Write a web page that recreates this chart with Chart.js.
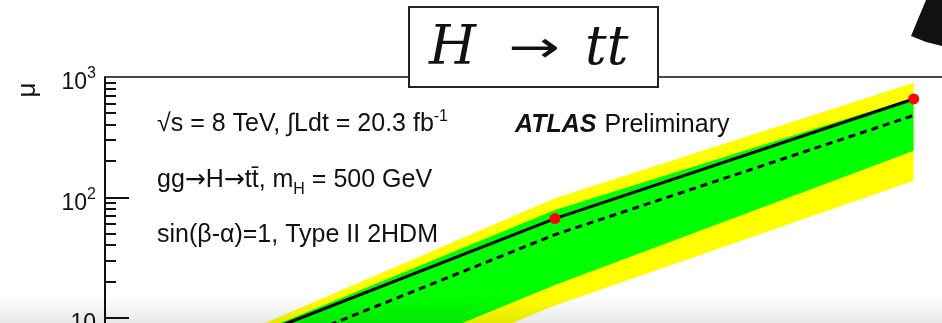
<!DOCTYPE html>
<html>
<head>
<meta charset="utf-8">
<script src="https://cdn.jsdelivr.net/npm/chart.js@4.4.1/dist/chart.umd.min.js"></script>
<style>
  html, body { margin: 0; padding: 0; background: #fff; overflow: hidden; }
  #wrap { position: relative; width: 942px; height: 323px; overflow: hidden; }
  #limitChart { position: absolute; left: 0; top: 0; }
  #shade { position: absolute; left: 0; top: 296px; width: 942px; height: 27px;
    background: linear-gradient(to bottom, rgba(0,0,0,0), rgba(0,0,0,0.09)); pointer-events: none; }
</style>
</head>
<body>
<div id="wrap">
  <canvas id="limitChart" width="1010" height="444"></canvas>
  <div id="shade"></div>
</div>
<script>
// LIMIT POINTS (x positions of the scan points, only the top part of the plot is visible)
const xPoints = [1, 2, 3];
const observed = [4.59, 66.8, 657];
const expected = [3.15, 49.2, 480];
const plus2Sigma = [5.14, 98.7, 894];
const plus1Sigma = [4.67, 78.7, 673];
const minus1Sigma = [1.12, 18.8, 244];
const minus2Sigma = [0.76, 12.7, 138];

// Y AXIS
const yMin = 1;
const yMax = 1000;
const yMajorTicks = [1, 10, 100, 1000];
const yTickLabels = [['1', ''], ['10', ''], ['10', '2'], ['10', '3']];
const xMin = 0.743;
const xMax = 3.253;

const SANS = '"Liberation Sans", Arial, Helvetica, sans-serif';

function pts(values) {
  return xPoints.map((x, i) => ({ x: x, y: values[i] }));
}

function bandSet(values, color, target, order) {
  return {
    data: pts(values),
    borderWidth: 0,
    pointRadius: 0,
    backgroundColor: color,
    fill: target === null ? false : { target: target },
    tension: 0,
    order: order
  };
}

function richText(ctx, x, y, parts) {
  parts.forEach(p => {
    ctx.font = p.font;
    ctx.fillText(p.t, x, y + (p.dy || 0));
    x += ctx.measureText(p.t).width + (p.gap || 0);
  });
}

// frame, inward ticks, tick labels, annotations
const decorations = {
  id: 'decorations',
  afterDraw(chart) {
    const ctx = chart.ctx;
    const area = chart.chartArea;
    const y = chart.scales.y;
    ctx.save();

    // top frame line
    ctx.strokeStyle = '#4a4a4a';
    ctx.lineWidth = 2;
    ctx.beginPath();
    ctx.moveTo(area.left, area.top);
    ctx.lineTo(chart.width, area.top);
    ctx.stroke();

    // left axis
    ctx.strokeStyle = '#111';
    ctx.beginPath();
    ctx.moveTo(area.left + 1, area.top);
    ctx.lineTo(area.left + 1, area.bottom);
    ctx.stroke();

    // ticks pointing into the plot
    for (let d = yMin; d < yMax; d *= 10) {
      for (let m = 1; m < 10; m++) {
        const py = Math.round(y.getPixelForValue(d * m));
        const len = m === 1 ? 25 : 12;
        ctx.beginPath();
        ctx.moveTo(area.left, py);
        ctx.lineTo(area.left + len, py);
        ctx.stroke();
      }
    }

    // tick labels with exponents
    ctx.fillStyle = '#111';
    ctx.textBaseline = 'alphabetic';
    yMajorTicks.forEach((v, i) => {
      const py = y.getPixelForValue(v);
      const [base, exp] = yTickLabels[i];
      ctx.font = '23px ' + SANS;
      const wb = ctx.measureText(base).width;
      ctx.font = '16px ' + SANS;
      const we = exp ? ctx.measureText(exp).width : 0;
      const right = 96;
      ctx.font = '23px ' + SANS;
      ctx.fillText(base, right - we - wb, py + 12);
      if (exp) {
        ctx.font = '16px ' + SANS;
        ctx.fillText(exp, right - we, py + 1);
      }
    });

    // y axis title
    ctx.save();
    ctx.translate(35, 90);
    ctx.rotate(-Math.PI / 2);
    ctx.font = '26px ' + SANS;
    ctx.textAlign = 'center';
    ctx.fillText('μ', 0, 0);
    ctx.restore();

    // annotations
    ctx.fillStyle = '#111';
    const f = '25px ' + SANS;
    const fs = '16px ' + SANS;
    const fa = '25px "DejaVu Sans", sans-serif';
    richText(ctx, 157, 131, [
      { t: '√s = 8 TeV, ∫Ldt = 20.3 fb', font: f },
      { t: '-1', font: fs, dy: -10 }
    ]);
    richText(ctx, 157, 187, [
      { t: 'gg', font: f },
      { t: '→', font: fa },
      { t: 'H', font: f },
      { t: '→', font: fa },
      { t: 'tt\u0304, m', font: f },
      { t: 'H', font: fs, dy: 7 },
      { t: ' = 500 GeV', font: f }
    ]);
    richText(ctx, 157, 242, [
      { t: 'sin(β-α)=1, Type II 2HDM', font: f }
    ]);
    richText(ctx, 515, 132, [
      { t: 'ATLAS', font: 'italic bold 25px ' + SANS, gap: 8 },
      { t: 'Preliminary', font: '25px ' + SANS }
    ]);

    // title box
    ctx.fillStyle = '#fff';
    ctx.fillRect(409, 7, 249, 80);
    ctx.strokeStyle = '#222';
    ctx.lineWidth = 2;
    ctx.strokeRect(409, 7, 249, 80);
    ctx.fillStyle = '#111';
    ctx.font = 'italic 54px "DejaVu Serif", "Liberation Serif", serif';
    ctx.fillText('H', 429, 64);
    ctx.fillText('tt', 585, 64);
    ctx.save();
    ctx.translate(508, 62);
    ctx.scale(1.4, 1);
    ctx.font = '44px "DejaVu Sans", serif';
    ctx.fillText('→', 0, 0);
    ctx.restore();

    // corner mark
    ctx.fillStyle = '#111';
    ctx.beginPath();
    ctx.moveTo(926, 0);
    ctx.lineTo(942, 0);
    ctx.lineTo(942, 46);
    ctx.lineTo(926, 42);
    ctx.lineTo(911, 36);
    ctx.closePath();
    ctx.fill();

    ctx.restore();
  }
};

const ctx = document.getElementById('limitChart').getContext('2d');
new Chart(ctx, {
  type: 'line',
  data: {
    datasets: [
      bandSet(plus2Sigma, '#ffff00', 1, 6),
      bandSet(minus2Sigma, '#ffff00', null, 5),
      bandSet(plus1Sigma, '#00ff00', 3, 4),
      bandSet(minus1Sigma, '#00ff00', null, 3),
      {
        label: 'Expected',
        data: pts(expected),
        borderColor: '#000',
        borderWidth: 3,
        borderDash: [7, 5],
        pointRadius: 0,
        fill: false,
        tension: 0,
        order: 2
      },
      {
        label: 'Observed',
        data: pts(observed),
        borderColor: '#000',
        borderWidth: 3,
        pointRadius: 5.5,
        pointBorderWidth: 0,
        pointBackgroundColor: '#ff0000',
        fill: false,
        tension: 0,
        order: 1
      }
    ]
  },
  options: {
    responsive: false,
    animation: false,
    devicePixelRatio: 1,
    layout: { padding: { top: 77, left: 0, right: 0, bottom: 0 } },
    plugins: {
      legend: { display: false },
      tooltip: { enabled: false }
    },
    scales: {
      x: {
        type: 'linear',
        min: xMin,
        max: xMax,
        display: false
      },
      y: {
        type: 'logarithmic',
        min: yMin,
        max: yMax,
        afterFit(scale) { scale.width = 104; },
        ticks: { display: false },
        grid: { display: false },
        border: { display: false }
      }
    }
  },
  plugins: [decorations]
});
</script>
</body>
</html>
